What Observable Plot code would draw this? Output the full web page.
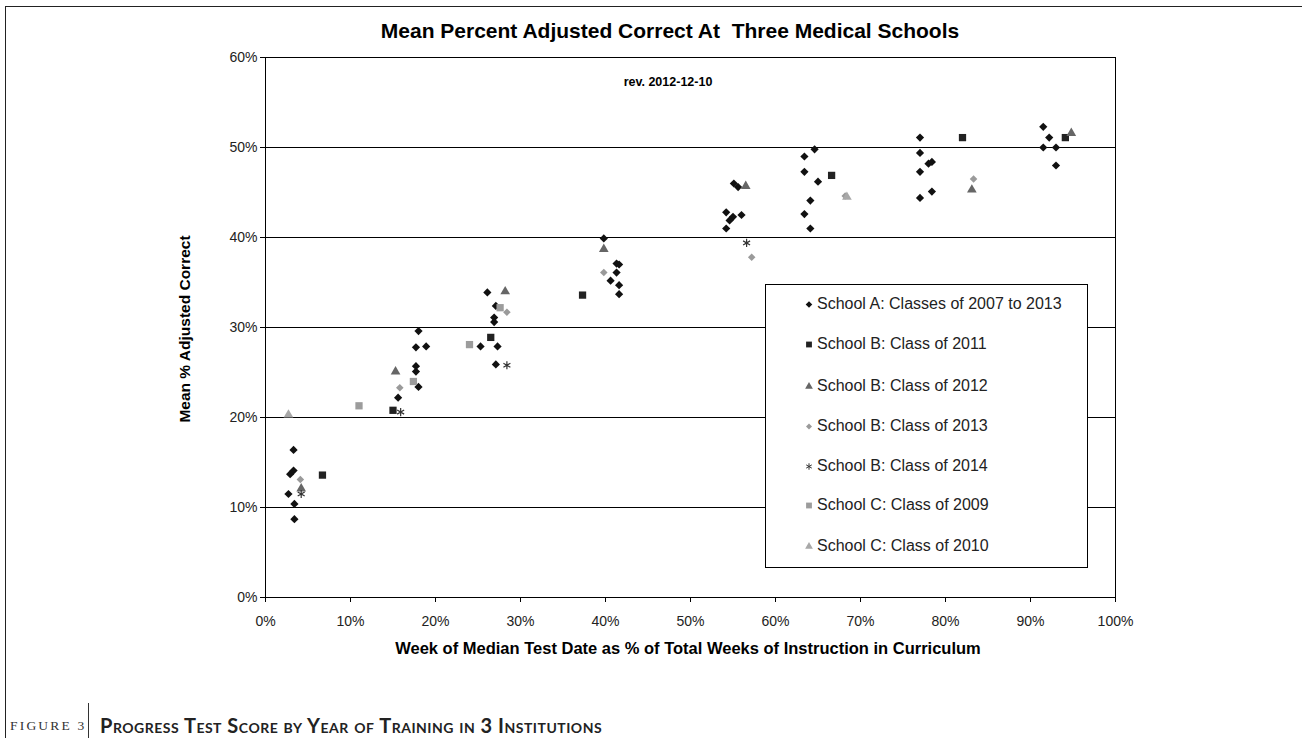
<!DOCTYPE html>
<html>
<head>
<meta charset="utf-8">
<script src="https://cdn.jsdelivr.net/npm/d3@7"></script>
<script src="https://cdn.jsdelivr.net/npm/@observablehq/plot@0.6"></script>
<style>
  html, body { margin: 0; padding: 0; background: #fff; }
  #wrap { position: relative; width: 1305px; height: 738px; overflow: hidden; font-family: "Liberation Sans", Arial, sans-serif; }
  #frame { position: absolute; left: 5px; top: 6px; width: 1296px; height: 740px; border-top: 1px solid #222; border-left: 1px solid #222; }
  #chart { position: absolute; left: 0; top: 0; }
  .ov { position: absolute; white-space: nowrap; color: #000; }
  #title { left: 670px; top: 31px; font-weight: bold; font-size: 21px; transform: translate(-50%,-50%); }
  #rev { left: 668px; top: 82px; font-weight: bold; font-size: 12.5px; transform: translate(-50%,-50%); }
  #ytitle { left: 185px; top: 329px; font-weight: bold; font-size: 15.5px; transform: translate(-50%,-50%) rotate(-90deg); }
  #xtitle { left: 688px; top: 648px; font-weight: bold; font-size: 16.5px; transform: translate(-50%,-50%); }
  #legend { position: absolute; left: 765px; top: 284px; width: 321px; height: 282px; border: 1px solid #000; background: #fff; }
  .li { position: absolute; left: 0; height: 20px; display: flex; align-items: center; font-size: 16px; color: #222; }
  .li svg { margin-left: 38px; margin-right: 3px; }
  #figlab { left: 10px; top: 718px; font-family: "Liberation Serif", serif; font-size: 13.5px; letter-spacing: 2.2px; color: #333; }
  #sep { position: absolute; left: 88px; top: 703px; width: 1px; height: 40px; background: #333; }
  #figcap { left: 100px; top: 713px; font-family: Lato, "Open Sans", sans-serif; font-weight: bold; font-size: 20px; font-variant: small-caps; color: #222; letter-spacing: 0.5px; }
</style>
</head>
<body>
<div id="wrap">
  <div id="frame"></div>
  <div id="chart"></div>
  <div class="ov" id="title">Mean Percent Adjusted Correct At&nbsp; Three Medical Schools</div>
  <div class="ov" id="rev">rev. 2012-12-10</div>
  <div class="ov" id="ytitle">Mean % Adjusted Correct</div>
  <div class="ov" id="xtitle">Week of Median Test Date as % of Total Weeks of Instruction in Curriculum</div>
  <div id="legend"></div>
  <div class="ov" id="figlab">FIGURE 3</div>
  <div id="sep"></div>
  <div class="ov" id="figcap">Progress Test Score by Year of Training in 3 Institutions</div>
</div>
<script>
// ---- Data (x = % of curriculum weeks, y = mean % adjusted correct) ----
const schoolA = [
  [3.3,16.4],[2.9,13.7],[3.3,14.1],[2.7,11.5],[3.4,10.4],[3.4,8.7],
  [15.6,22.2],[18.0,23.4],[17.7,25.7],[17.7,25.1],[17.7,27.8],[18.9,27.9],[18.0,29.6],
  [25.3,27.9],[27.3,27.9],[27.1,25.9],[26.9,31.1],[26.9,30.6],[27.1,32.4],[26.1,33.9],
  [39.8,39.9],[41.3,37.1],[41.6,37.0],[41.3,36.1],[40.6,35.2],[41.6,34.7],[41.6,33.7],
  [55.1,46.0],[55.6,45.6],[54.2,42.8],[55.0,42.3],[56.0,42.5],[54.2,41.0],[54.6,41.9],
  [64.6,49.8],[63.4,49.0],[63.4,47.3],[65.0,46.2],[64.1,44.1],[63.4,42.6],[64.1,41.0],
  [77.0,51.1],[77.0,49.4],[78.0,48.2],[78.4,48.4],[77.0,47.3],[78.4,45.1],[77.0,44.4],
  [91.5,52.3],[92.2,51.1],[91.5,50.0],[93.0,50.0],[93.0,48.0]
];
const schoolB2011 = [[6.7,13.6],[15.0,20.8],[26.5,28.9],[37.3,33.6],[66.6,46.9],[82.0,51.1],[94.1,51.1]];
const schoolB2012 = [[4.2,12.1],[15.3,25.1],[28.2,34.0],[39.8,38.7],[56.5,45.7],[83.1,45.3],[94.8,51.6]];
const schoolB2013 = [[4.1,13.1],[15.8,23.3],[28.4,31.7],[39.8,36.1],[57.2,37.8],[68.2,44.6],[83.3,46.5]];
const schoolB2014 = [[4.2,11.5],[15.9,20.6],[28.4,25.8],[56.6,39.4]];
const schoolC2009 = [[11.0,21.3],[17.4,24.0],[24.0,28.1],[27.6,32.2]];
const schoolC2010 = [[2.7,20.3],[68.4,44.5]];

const seriesNames = [
  "School A: Classes of 2007 to 2013",
  "School B: Class of 2011",
  "School B: Class of 2012",
  "School B: Class of 2013",
  "School B: Class of 2014",
  "School C: Class of 2009",
  "School C: Class of 2010"
];
const xTicks = [0,10,20,30,40,50,60,70,80,90,100];
const yTicks = [0,10,20,30,40,50,60];
const gridValues = [10,20,30,40,50];

// ---- Styling per series ----
const styles = [
  {data: schoolA,     symbol: "diamond2", fill: "#111", r: 3.7},
  {data: schoolB2011, symbol: "square",   fill: "#222", r: 4.1},
  {data: schoolB2012, symbol: "triangle", fill: "#666", r: 3.6},
  {data: schoolB2013, symbol: "diamond2", fill: "#9a9a9a", r: 3.4},
  {data: schoolB2014, symbol: "asterisk", stroke: "#333", r: 3.8},
  {data: schoolC2009, symbol: "square",   fill: "#9c9c9c", r: 4.1},
  {data: schoolC2010, symbol: "triangle", fill: "#a8a8a8", r: 3.6}
];

const dotMarks = styles.map(s => Plot.dot(s.data, {
  x: d => d[0], y: d => d[1], symbol: s.symbol, r: s.r,
  fill: s.fill ?? "none", stroke: s.stroke ?? "none", strokeWidth: 1.2
}));

const chart = Plot.plot({
  width: 1305,
  height: 680,
  marginLeft: 265,
  marginRight: 190,
  marginTop: 57,
  marginBottom: 83,
  style: {fontFamily: "'Liberation Sans', Arial, sans-serif", fontSize: "14px", color: "#222", background: "transparent"},
  x: {domain: [0, 100]},
  y: {domain: [0, 60]},
  marks: [
    Plot.ruleY(gridValues, {stroke: "#000", strokeWidth: 1}),
    Plot.frame({stroke: "#000", strokeWidth: 1}),
    Plot.axisX(xTicks, {tickSize: 5, tickPadding: 14, tickFormat: d => d + "%", label: null, fontSize: 14, stroke: "#000"}),
    Plot.axisY(yTicks, {tickSize: 5, tickPadding: 3, tickFormat: d => d + "%", label: null, fontSize: 14, stroke: "#000"}),
    ...dotMarks
  ]
});
document.getElementById("chart").appendChild(chart);

// ---- Legend ----
const legend = document.getElementById("legend");
const rowTops = [9, 49, 91, 131, 171, 210, 251];
styles.forEach((s, i) => {
  const row = document.createElement("div");
  row.className = "li";
  row.style.top = rowTops[i] + "px";
  const sym = {diamond2: d3.symbolDiamond2, square: d3.symbolSquare, triangle: d3.symbolTriangle, asterisk: d3.symbolAsterisk}[s.symbol];
  const svg = d3.create("svg").attr("width", 10).attr("height", 10);
  svg.append("path")
    .attr("transform", "translate(5,5.5)")
    .attr("d", d3.symbol(sym, Math.PI * (s.r * 0.8) ** 2)())
    .attr("fill", s.fill ?? "none")
    .attr("stroke", s.stroke ?? "none")
    .attr("stroke-width", 1);
  row.appendChild(svg.node());
  const t = document.createElement("span");
  t.textContent = seriesNames[i];
  row.appendChild(t);
  legend.appendChild(row);
});
</script>
</body>
</html>
